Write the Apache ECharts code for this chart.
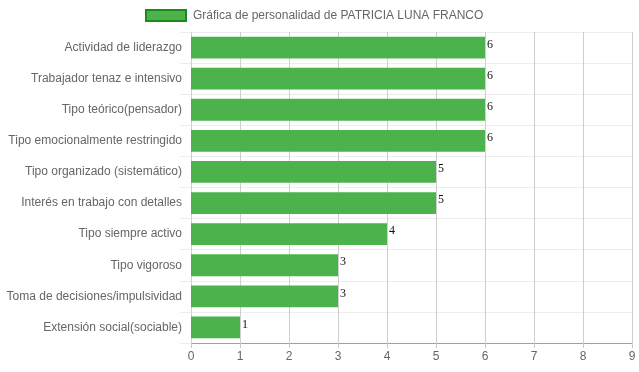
<!DOCTYPE html>
<html>
<head>
<meta charset="utf-8">
<script src="https://cdn.jsdelivr.net/npm/echarts@6/dist/echarts.min.js"></script>
<style>
  html, body { margin: 0; padding: 0; background: #fff; }
  #chart { width: 639px; height: 372px; }
</style>
</head>
<body>
<div id="chart"></div>
<script>
// Personality traits, listed top to bottom
const traits = [
  'Actividad de liderazgo',
  'Trabajador tenaz e intensivo',
  'Tipo teórico(pensador)',
  'Tipo emocionalmente restringido',
  'Tipo organizado (sistemático)',
  'Interés en trabajo con detalles',
  'Tipo siempre activo',
  'Tipo vigoroso',
  'Toma de decisiones/impulsividad',
  'Extensión social(sociable)'
];
const scores = [6, 6, 6, 6, 5, 5, 4, 3, 3, 1];
const seriesName = 'Gráfica de personalidad de PATRICIA LUNA FRANCO';
const scoreMin = 0;
const scoreMax = 9;
const scoreStep = 1;

const chart = echarts.init(document.getElementById('chart'), null, { renderer: 'canvas' });

chart.setOption({
  animation: false,
  textStyle: { fontFamily: 'Liberation Sans, Arial, sans-serif' },
  legend: {
    left: 145,
    top: 9,
    padding: 0,
    itemWidth: 40,
    itemHeight: 11,
    itemGap: 10,
    icon: 'rect',
    textStyle: {
      color: '#666',
      fontSize: 12,
      fontFamily: 'Liberation Sans, Arial, sans-serif',
      padding: [0, 0, 0, 2]
    },
    itemStyle: { color: '#4cb34c', borderColor: '#1a8a1a', borderWidth: 2 },
    data: [seriesName]
  },
  grid: { left: 191, right: 7, top: 32, bottom: 29, containLabel: false },
  xAxis: {
    type: 'value',
    min: scoreMin,
    max: scoreMax,
    interval: scoreStep,
    axisLine: { show: true, lineStyle: { color: '#a0a0a0', width: 1 } },
    axisTick: { show: true, length: 5, lineStyle: { color: '#c8c8c8' } },
    axisLabel: { color: '#666', fontSize: 12, margin: 8 },
    splitLine: { show: true, lineStyle: { color: '#cfcfcf', width: 1 } }
  },
  yAxis: {
    type: 'category',
    data: traits,
    inverse: true,
    axisLine: { show: true, lineStyle: { color: '#cfcfcf' } },
    axisTick: { show: true, length: 11, alignWithLabel: false, lineStyle: { color: '#ececec' } },
    axisLabel: { color: '#666', fontSize: 12, margin: 9 },
    splitLine: { show: true, lineStyle: { color: '#ececec', width: 1 } }
  },
  series: [{
    name: seriesName,
    type: 'bar',
    data: scores,
    barCategoryGap: '30%',
    itemStyle: { color: '#4cb34c' },
    label: {
      show: true,
      position: 'right',
      distance: 2,
      offset: [0, -3],
      color: '#111',
      fontSize: 12,
      fontFamily: 'Liberation Serif, Times New Roman, serif'
    }
  }]
});
</script>
</body>
</html>
